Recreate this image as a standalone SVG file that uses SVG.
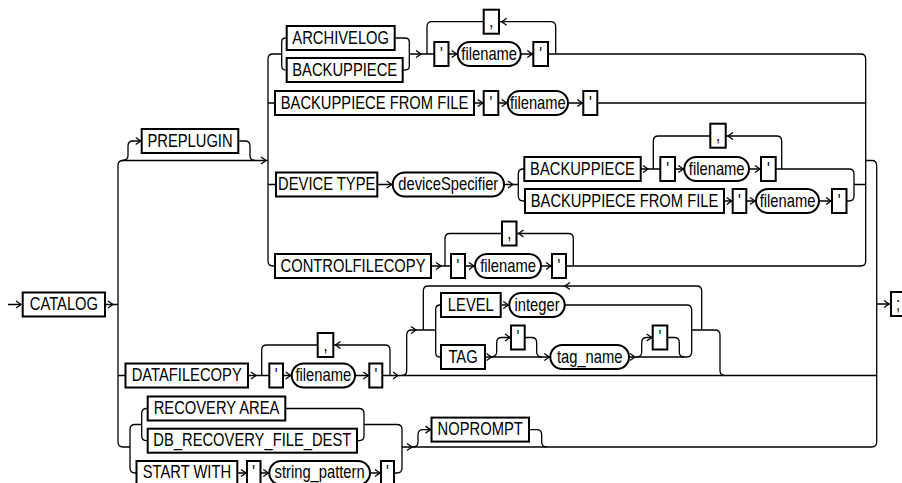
<svg xmlns="http://www.w3.org/2000/svg" xmlns:xlink="http://www.w3.org/1999/xlink" width="902" height="483" viewBox="0 0 902 483">
<style>
.b{fill:#fff;stroke:#000;stroke-width:2}
.l{fill:none;stroke:#000;stroke-width:1.3}
text{font-family:"Liberation Sans",Arial,sans-serif;font-size:18px;text-anchor:middle;fill:#000}
</style>
<defs>
<path id="ar" d="M-5,-3.5 L0,0 L-5,3.5" class="l"/>
<path id="al" d="M5,-3.5 L0,0 L5,3.5" class="l"/>
</defs>
<rect width="902" height="483" fill="#fff"/>
<g id="connectors">
<path class="l" d="M8,304.5 H21 M106,304.5 H118"/>
<path class="l" d="M123,160.5 Q118,160.5 118,165.5 V442 Q118,447 123,447 H130 M123,160.5 H268"/>
<path class="l" d="M122,160.5 Q128,160.5 128,155.5 V146 Q128,141 133,141 H140.7 M239.3,141 H245 Q250,141 250,146 V155.5 Q250,160.5 255,160.5"/>
<path class="l" d="M281.7,54 H273 Q268,54 268,59 V261 Q268,266 273,266 H860.7 Q865.7,266 865.7,261 V59 Q865.7,54 860.7,54 H409.3"/>
<path class="l" d="M285.7,38 Q281.7,38 281.7,42 V66 Q281.7,70 285.7,70 M395.7,38 H405 Q409.3,38 409.3,42 V66 Q409.3,70 405,70 H403.7"/>
<path class="l" d="M427,54 V26.7 Q427,21.7 432,21.7 H550.7 Q555.7,21.7 555.7,26.7 V54"/>
<path class="l" d="M268,103 H865.7 M268,184.5 H518.3"/>
<path class="l" d="M523.3,169 Q518.3,169 518.3,174 V196 Q518.3,201 523.3,201 H849 Q854,201 854,196 V174 Q854,169 849,169 H523.3 M854,184.5 H865.7"/>
<path class="l" d="M653.3,169 V141 Q653.3,136 658.3,136 H776.7 Q781.7,136 781.7,141 V169"/>
<path class="l" d="M445,266 V238.5 Q445,233.5 450,233.5 H568.3 Q573.3,233.5 573.3,238.5 V266"/>
<path class="l" d="M865.7,160.5 H871.7 Q876.7,160.5 876.7,165.5 V442 Q876.7,447 871.7,447 H402 M876.7,304 H890"/>
<path class="l" d="M118,375.5 H876.7 M261.7,375.5 V350 Q261.7,345 266.7,345 H385 Q390,345 390,350 V375.5"/>
<path class="l" d="M401.7,375.5 Q406.7,375.5 406.7,370.5 V335 Q406.7,330 411.7,330 H435.7 M423.3,330 V291 Q423.3,286 428.3,286 H696.7 Q701.7,286 701.7,291 V330"/>
<path class="l" d="M440,305 Q435.7,305 435.7,309.3 V352.7 Q435.7,357 440,357 M501.7,305 H686.7 Q691.7,305 691.7,310 V352 Q691.7,357 686.7,357 H486 M691.7,330 H715 Q720,330 720,335 V370.5 Q720,375.5 725,375.5"/>
<path class="l" d="M490,357 Q496.7,357 496.7,352 V342.5 Q496.7,337.5 501.7,337.5 H531.7 Q536.7,337.5 536.7,342.5 V352 Q536.7,357 541.7,357 M636.7,357 Q641.7,357 641.7,352 V342.5 Q641.7,337.5 646.7,337.5 H674.3 Q679.3,337.5 679.3,342.5 V352 Q679.3,357 684.3,357"/>
<path class="l" d="M141.7,424.5 H135 Q130,424.5 130,429.5 V468 Q130,473 135,473 H397 Q402,473 402,468 V429.5 Q402,424.5 397,424.5 H364"/>
<path class="l" d="M146.7,408.5 Q141.7,408.5 141.7,413.5 V435.7 Q141.7,440.7 146.7,440.7 H359 Q364,440.7 364,435.7 V413.5 Q364,408.5 359,408.5 H146.7"/>
<path class="l" d="M413,447 Q418,447 418,442 V434.6 Q418,429.6 423,429.6 H536.7 Q541.7,429.6 541.7,434.6 V442 Q541.7,447 546.7,447"/>
<use xlink:href="#ar" x="21" y="304.5"/>
<use xlink:href="#ar" x="113" y="304.5"/>
<use xlink:href="#ar" x="140.7" y="141"/>
<use xlink:href="#ar" x="266" y="160.5"/>
<use xlink:href="#ar" x="421" y="54"/>
<use xlink:href="#ar" x="456.7" y="54"/>
<use xlink:href="#ar" x="532.3" y="54"/>
<use xlink:href="#ar" x="482.7" y="103"/>
<use xlink:href="#ar" x="506.7" y="103"/>
<use xlink:href="#ar" x="582.3" y="103"/>
<use xlink:href="#ar" x="391.7" y="184.5"/>
<use xlink:href="#ar" x="513" y="184.5"/>
<use xlink:href="#ar" x="648" y="169"/>
<use xlink:href="#ar" x="683.3" y="169"/>
<use xlink:href="#ar" x="760" y="169"/>
<use xlink:href="#ar" x="731.7" y="201"/>
<use xlink:href="#ar" x="755" y="201"/>
<use xlink:href="#ar" x="831" y="201"/>
<use xlink:href="#ar" x="441" y="266"/>
<use xlink:href="#ar" x="474" y="266"/>
<use xlink:href="#ar" x="551" y="266"/>
<use xlink:href="#ar" x="256" y="375.5"/>
<use xlink:href="#ar" x="290.7" y="375.5"/>
<use xlink:href="#ar" x="368.3" y="375.5"/>
<use xlink:href="#ar" x="398" y="375.5"/>
<use xlink:href="#ar" x="416" y="330"/>
<use xlink:href="#ar" x="508.3" y="305"/>
<use xlink:href="#ar" x="491.5" y="357"/>
<use xlink:href="#ar" x="510" y="337.5"/>
<use xlink:href="#ar" x="549.3" y="357"/>
<use xlink:href="#ar" x="635" y="357"/>
<use xlink:href="#ar" x="651.7" y="337.5"/>
<use xlink:href="#ar" x="412" y="447"/>
<use xlink:href="#ar" x="430.5" y="429.6"/>
<use xlink:href="#ar" x="246" y="473"/>
<use xlink:href="#ar" x="268.3" y="473"/>
<use xlink:href="#ar" x="380" y="473"/>
<use xlink:href="#ar" x="889" y="304"/>
<use xlink:href="#al" x="501.7" y="21.7"/>
<use xlink:href="#al" x="728" y="136"/>
<use xlink:href="#al" x="518.5" y="233.5"/>
<use xlink:href="#al" x="335.5" y="345"/>
<use xlink:href="#al" x="565" y="286"/>
</g>
<g id="n-catalog"><rect class="b" x="22.7" y="292.5" width="82.3" height="24"/><text transform="translate(63.9,310) scale(.82,1)">CATALOG</text></g>
<g id="n-preplugin"><rect class="b" x="141.7" y="129" width="96.6" height="24"/><text transform="translate(190,146.5) scale(.82,1)">PREPLUGIN</text></g>
<g id="n-archivelog"><rect class="b" x="286.7" y="26" width="108" height="24"/><text transform="translate(340.7,43.5) scale(.82,1)">ARCHIVELOG</text></g>
<g id="n-backuppiece1"><rect class="b" x="286.7" y="58" width="116" height="24"/><text transform="translate(344.7,75.5) scale(.82,1)">BACKUPPIECE</text></g>
<g id="n-q1"><rect class="b" x="434.3" y="42" width="14.2" height="24"/><text transform="translate(441.4,59.5) scale(.82,1)">'</text></g>
<g id="n-filename1"><rect class="b" x="457.7" y="42" width="63" height="24" rx="12"/><text transform="translate(489.2,59.5) scale(.82,1)">filename</text></g>
<g id="n-q2"><rect class="b" x="533.3" y="42" width="14.7" height="24"/><text transform="translate(540.7,59.5) scale(.82,1)">'</text></g>
<g id="n-comma1"><rect class="b" x="483.7" y="9.7" width="15.3" height="24"/><text transform="translate(491.4,27.2) scale(.82,1)">,</text></g>
<g id="n-bpff1"><rect class="b" x="275" y="91" width="199" height="24"/><text transform="translate(374.5,108.5) scale(.82,1)">BACKUPPIECE FROM FILE</text></g>
<g id="n-q3"><rect class="b" x="483.7" y="91" width="14.6" height="24"/><text transform="translate(491,108.5) scale(.82,1)">'</text></g>
<g id="n-filename2"><rect class="b" x="507.7" y="91" width="60.3" height="24" rx="12"/><text transform="translate(537.9,108.5) scale(.82,1)">filename</text></g>
<g id="n-q4"><rect class="b" x="583.3" y="91" width="14" height="24"/><text transform="translate(590.3,108.5) scale(.82,1)">'</text></g>
<g id="n-devicetype"><rect class="b" x="276" y="172.5" width="101.3" height="24"/><text transform="translate(326.7,190) scale(.82,1)">DEVICE TYPE</text></g>
<g id="n-devicespecifier"><rect class="b" x="392.7" y="172.5" width="111.3" height="24" rx="12"/><text transform="translate(448.3,190) scale(.82,1)">deviceSpecifier</text></g>
<g id="n-backuppiece2"><rect class="b" x="524.3" y="157" width="116.4" height="24"/><text transform="translate(582.5,174.5) scale(.82,1)">BACKUPPIECE</text></g>
<g id="n-q5"><rect class="b" x="660.3" y="157" width="14.7" height="24"/><text transform="translate(667.7,174.5) scale(.82,1)">'</text></g>
<g id="n-filename3"><rect class="b" x="684.3" y="157" width="64.7" height="24" rx="12"/><text transform="translate(716.7,174.5) scale(.82,1)">filename</text></g>
<g id="n-q6"><rect class="b" x="761" y="157" width="14.7" height="24"/><text transform="translate(768.3,174.5) scale(.82,1)">'</text></g>
<g id="n-comma2"><rect class="b" x="710.3" y="123.7" width="15.4" height="24"/><text transform="translate(718,141.2) scale(.82,1)">,</text></g>
<g id="n-bpff2"><rect class="b" x="525" y="189" width="199" height="24"/><text transform="translate(624.5,206.5) scale(.82,1)">BACKUPPIECE FROM FILE</text></g>
<g id="n-q7"><rect class="b" x="732.7" y="189" width="13.6" height="24"/><text transform="translate(739.5,206.5) scale(.82,1)">'</text></g>
<g id="n-filename4"><rect class="b" x="756" y="189" width="63" height="24" rx="12"/><text transform="translate(787.5,206.5) scale(.82,1)">filename</text></g>
<g id="n-q8"><rect class="b" x="832" y="189" width="14.5" height="24"/><text transform="translate(839.2,206.5) scale(.82,1)">'</text></g>
<g id="n-controlfilecopy"><rect class="b" x="275" y="254" width="156" height="24"/><text transform="translate(353,271.5) scale(.82,1)">CONTROLFILECOPY</text></g>
<g id="n-q9"><rect class="b" x="451" y="254" width="14" height="24"/><text transform="translate(458,271.5) scale(.82,1)">'</text></g>
<g id="n-filename5"><rect class="b" x="475" y="254" width="66" height="24" rx="12"/><text transform="translate(508,271.5) scale(.82,1)">filename</text></g>
<g id="n-q10"><rect class="b" x="552" y="254" width="14" height="24"/><text transform="translate(559,271.5) scale(.82,1)">'</text></g>
<g id="n-comma3"><rect class="b" x="502" y="221.5" width="14.5" height="24"/><text transform="translate(509.2,239) scale(.82,1)">,</text></g>
<g id="n-datafilecopy"><rect class="b" x="125.5" y="363.5" width="122.5" height="24"/><text transform="translate(186.7,381) scale(.82,1)">DATAFILECOPY</text></g>
<g id="n-q11"><rect class="b" x="269.3" y="363.5" width="13.7" height="24"/><text transform="translate(276.1,381) scale(.82,1)">'</text></g>
<g id="n-filename6"><rect class="b" x="291.7" y="363.5" width="63.3" height="24" rx="12"/><text transform="translate(323.3,381) scale(.82,1)">filename</text></g>
<g id="n-q12"><rect class="b" x="369.3" y="363.5" width="13" height="24"/><text transform="translate(375.8,381) scale(.82,1)">'</text></g>
<g id="n-comma4"><rect class="b" x="317.7" y="333" width="15.6" height="24"/><text transform="translate(325.5,350.5) scale(.82,1)">,</text></g>
<g id="n-level"><rect class="b" x="441" y="293" width="59.7" height="24"/><text transform="translate(470.8,310.5) scale(.82,1)">LEVEL</text></g>
<g id="n-integer"><rect class="b" x="509.3" y="293" width="55.4" height="24" rx="12"/><text transform="translate(537,310.5) scale(.82,1)">integer</text></g>
<g id="n-tag"><rect class="b" x="441" y="345" width="44" height="24"/><text transform="translate(463,362.5) scale(.82,1)">TAG</text></g>
<g id="n-q13"><rect class="b" x="511" y="325.5" width="13.7" height="24"/><text transform="translate(517.8,343) scale(.82,1)">'</text></g>
<g id="n-tagname"><rect class="b" x="550.3" y="345" width="78.7" height="24" rx="12"/><text transform="translate(589.7,362.5) scale(.82,1)">tag_name</text></g>
<g id="n-q14"><rect class="b" x="652.7" y="325.5" width="14.6" height="24"/><text transform="translate(660,343) scale(.82,1)">'</text></g>
<g id="n-recoveryarea"><rect class="b" x="147.7" y="396.5" width="137.6" height="24"/><text transform="translate(216.5,414) scale(.82,1)">RECOVERY AREA</text></g>
<g id="n-dbrfd"><rect class="b" x="147.7" y="428.7" width="209.3" height="24"/><text transform="translate(252.3,446.2) scale(.82,1)">DB_RECOVERY_FILE_DEST</text></g>
<g id="n-startwith"><rect class="b" x="136.5" y="461" width="100.8" height="24"/><text transform="translate(186.9,478.3) scale(.82,1)">START WITH</text></g>
<g id="n-q15"><rect class="b" x="247" y="461" width="13.5" height="24"/><text transform="translate(253.7,478.3) scale(.82,1)">'</text></g>
<g id="n-stringpattern"><rect class="b" x="269.3" y="461" width="100.7" height="24" rx="12"/><text transform="translate(319.6,478.3) scale(.82,1)">string_pattern</text></g>
<g id="n-q16"><rect class="b" x="381" y="461" width="13" height="24"/><text transform="translate(387.5,478.3) scale(.82,1)">'</text></g>
<g id="n-noprompt"><rect class="b" x="431.5" y="417.6" width="97.5" height="24"/><text transform="translate(480.2,435.1) scale(.82,1)">NOPROMPT</text></g>
<g id="n-semicolon"><rect class="b" x="891" y="292" width="14" height="24"/><text transform="translate(898,309.5) scale(.82,1)">;</text></g>
</svg>
